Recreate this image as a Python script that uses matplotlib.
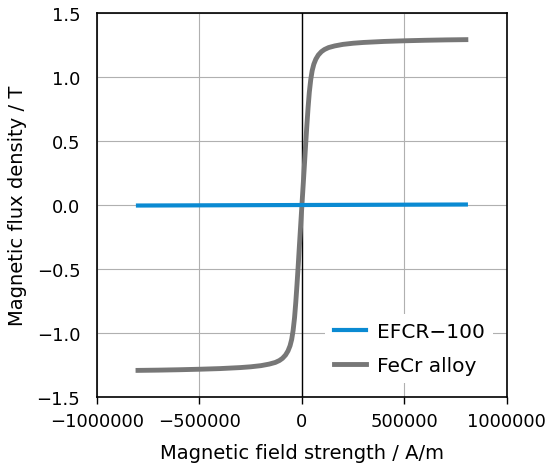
import matplotlib
matplotlib.use("Agg")
import matplotlib.pyplot as plt
import numpy as np

plt.rcParams['font.family'] = ['DejaVu Sans']

# EFCR-100 (almost flat)
h_efcr = [-800000, -400000, 0, 400000, 800000]
b_efcr = [-0.004, -0.002, 0.0, 0.002, 0.004]

# FeCr alloy
h_fecr = [-800000, -700000, -600000, -500000, -400000, -300000, -250000, -200000,
          -160000, -130000, -110000, -95000, -80000, -68000, -58000, -50000,
          -43000, -36000, -30000, -24000, -18000, -12000, -6000, 0,
          6000, 12000, 18000, 24000, 30000, 36000, 43000, 50000, 58000, 68000,
          80000, 95000, 110000, 130000, 160000, 200000, 250000, 300000, 400000,
          500000, 600000, 700000, 800000]
b_fecr = [-1.292, -1.29, -1.287, -1.283, -1.278, -1.27, -1.264, -1.255,
          -1.243, -1.23, -1.215, -1.198, -1.172, -1.14, -1.1, -1.05,
          -0.98, -0.88, -0.76, -0.62, -0.47, -0.31, -0.155, 0.0,
          0.155, 0.31, 0.47, 0.62, 0.76, 0.88, 0.98, 1.05, 1.1, 1.14,
          1.172, 1.198, 1.215, 1.23, 1.243, 1.255, 1.264, 1.27, 1.278,
          1.283, 1.287, 1.29, 1.292]

xticks = [-1000000, -500000, 0, 500000, 1000000]
yticks = [-1.5, -1.0, -0.5, 0.0, 0.5, 1.0, 1.5]

fig = plt.figure(figsize=(5.45, 4.77), dpi=100)
ax = fig.add_axes([0.178, 0.1656, 0.752, 0.805])
ax.set_axisbelow(True)

ax.grid(True, color='#b0b0b0', linewidth=0.8)
ax.axvline(0, color='black', linewidth=1.0, zorder=1.8)

ax.plot(h_efcr, b_efcr, color='#0a8ad2', linewidth=3, label='EFCR−100', zorder=3)
ax.plot(h_fecr, b_fecr, color='#777777', linewidth=3.5, label='FeCr alloy', zorder=2)

ax.set_xlim(-1000000, 1000000)
ax.set_ylim(-1.5, 1.5)
ax.set_xticks(xticks)
ax.set_yticks(yticks)
ax.set_xticklabels([str(v).replace('-', '−') for v in xticks])
ax.set_yticklabels(['%.1f' % v if v >= 0 else '−%.1f' % -v for v in yticks])
ax.tick_params(axis='x', labelsize=13, length=5, width=1, pad=6)
ax.tick_params(axis='y', labelsize=13, length=0, pad=12)
for s in ax.spines.values():
    s.set_linewidth(1.2)

ax.set_xlabel('Magnetic field strength / A/m', fontsize=14, labelpad=9)
ax.set_ylabel('Magnetic flux density / T', fontsize=14, labelpad=7)

leg = ax.legend(loc='lower right', fontsize=14.5, frameon=True, framealpha=1,
                edgecolor='none', handlelength=1.6, handletextpad=0.55,
                borderaxespad=0.7, labelspacing=0.75)
leg.get_frame().set_boxstyle('square', pad=0.0)

fig.savefig('out.png', dpi=100)
